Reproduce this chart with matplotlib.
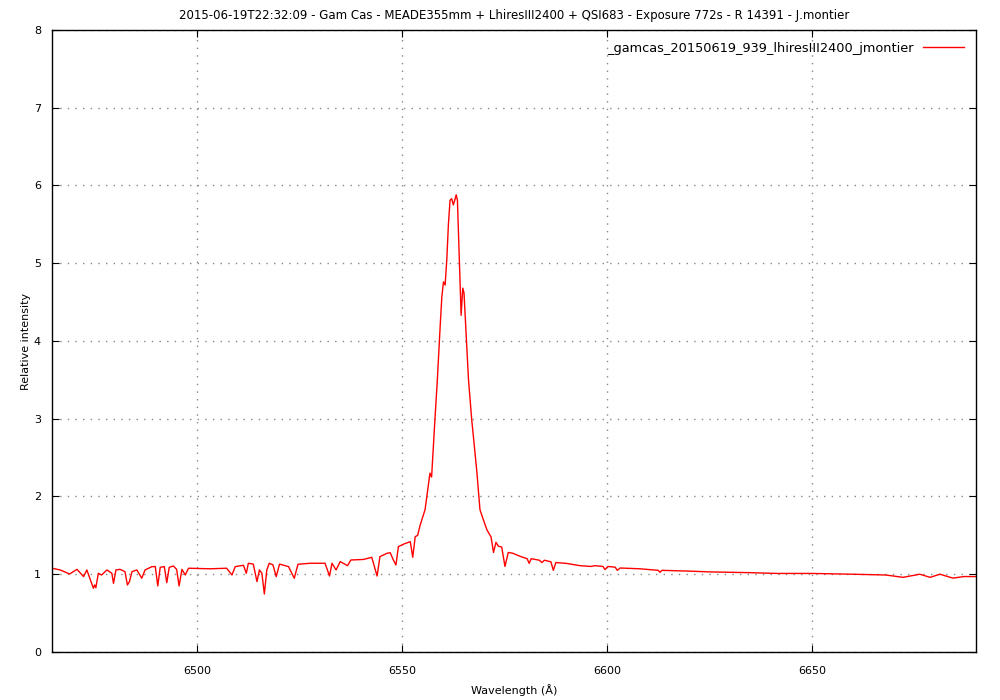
import matplotlib
matplotlib.use("Agg")
import matplotlib.pyplot as plt

# wavelength (A) and relative intensity
wave = [6464.6, 6466.6, 6468.9, 6470.7, 6472.3, 6473.1, 6474.7, 6475.0, 6475.3, 6475.9,
        6476.7, 6478.0, 6479.2, 6479.6, 6480.2, 6481.2, 6482.4, 6483.0, 6483.5, 6484.1,
        6485.3, 6486.5, 6487.3, 6489.0, 6489.8, 6490.4, 6491.0, 6492.0, 6492.6, 6493.2,
        6494.2, 6495.0, 6495.6, 6496.3, 6497.1, 6497.9, 6503.2, 6507.2, 6508.5, 6509.3,
        6511.3, 6512.0, 6512.5, 6513.7, 6514.6, 6515.2, 6515.8, 6516.4, 6517.0, 6517.6,
        6518.5, 6519.3, 6520.1, 6522.3, 6523.7, 6524.6, 6527.6, 6531.2, 6532.3, 6532.9,
        6533.9, 6534.9, 6536.7, 6537.5, 6540.6, 6542.6, 6543.9, 6544.6, 6546.3, 6547.1,
        6547.9, 6548.5, 6549.1, 6550.5, 6552.0, 6552.6, 6553.2, 6553.8, 6554.4, 6555.6,
        6556.8, 6557.2, 6557.8, 6558.0, 6558.6, 6559.3, 6559.7, 6560.1, 6560.5, 6560.9,
        6561.3, 6561.7, 6562.1, 6562.5, 6562.9, 6563.2, 6563.5, 6564.0, 6564.4, 6564.8,
        6565.1, 6565.6, 6566.2, 6567.0, 6568.2, 6569.0, 6569.5, 6570.7, 6571.7, 6572.3,
        6572.9, 6573.5, 6574.3, 6575.1, 6575.9, 6577.0, 6578.8, 6580.5, 6581.0, 6581.5,
        6583.5, 6584.1, 6584.7, 6586.3, 6586.9, 6587.5, 6590.0, 6593.4, 6596.0, 6597.0,
        6599.0, 6599.5, 6600.2, 6602.0, 6602.5, 6603.2, 6608.0, 6612.5, 6612.9, 6613.4,
        6620.0, 6625.0, 6635.0, 6641.5, 6650.0, 6660.0, 6668.0, 6672.2, 6676.3, 6678.8,
        6681.2, 6684.4, 6687.0, 6690.0]
flux = [1.077, 1.055, 1.003, 1.063, 0.969, 1.055, 0.819, 0.862, 0.827, 1.012,
        0.990, 1.055, 1.012, 0.883, 1.055, 1.063, 1.033, 0.862, 0.905, 1.033,
        1.055, 0.948, 1.055, 1.098, 1.098, 0.849, 1.089, 1.098, 0.891, 1.089,
        1.106, 1.063, 0.849, 1.063, 0.990, 1.077, 1.070, 1.077, 0.990, 1.098,
        1.115, 1.012, 1.141, 1.130, 0.905, 1.055, 1.012, 0.746, 1.055, 1.141,
        1.120, 0.969, 1.130, 1.098, 0.948, 1.128, 1.141, 1.141, 0.977, 1.141,
        1.055, 1.162, 1.110, 1.183, 1.190, 1.218, 0.977, 1.226, 1.269, 1.277,
        1.180, 1.119, 1.355, 1.390, 1.419, 1.218, 1.483, 1.500, 1.630, 1.830,
        2.300, 2.250, 2.810, 2.980, 3.500, 4.200, 4.570, 4.760, 4.720, 5.040,
        5.500, 5.810, 5.830, 5.750, 5.820, 5.880, 5.810, 5.000, 4.330, 4.680,
        4.620, 4.100, 3.500, 2.980, 2.340, 1.830, 1.750, 1.570, 1.480, 1.280,
        1.410, 1.360, 1.350, 1.100, 1.280, 1.270, 1.230, 1.200, 1.140, 1.200,
        1.180, 1.150, 1.180, 1.160, 1.050, 1.150, 1.140, 1.110, 1.100, 1.110,
        1.100, 1.060, 1.100, 1.090, 1.050, 1.080, 1.070, 1.050, 1.025, 1.050,
        1.040, 1.030, 1.020, 1.010, 1.010, 1.000, 0.990, 0.960, 1.000, 0.960,
        1.000, 0.950, 0.970, 0.970]

xticks = [6500, 6550, 6600, 6650]
yticks = [0, 1, 2, 3, 4, 5, 6, 7, 8]
series_name = "_gamcas_20150619_939_lhiresIII2400_jmontier"
title = ("2015-06-19T22:32:09 - Gam Cas - MEADE355mm + LhiresIII2400 + QSI683 "
         "- Exposure 772s - R 14391 - J.montier")

plt.rcParams['font.family'] = ['DejaVu Sans']
plt.rcParams['font.size'] = 8

fig = plt.figure(figsize=(10, 7), dpi=100)
ax = fig.add_axes([0.052, 0.0686, 0.924, 0.8886])

line, = ax.plot(wave, flux, color='red', lw=1.0)

ax.set_xlim(6464.6, 6690)
ax.set_ylim(0, 8)
ax.set_xticks(xticks)
ax.set_yticks(yticks)
ax.tick_params(direction='in', top=True, right=True, length=5, width=0.8, labelsize=8)
ax.tick_params(axis='x', pad=10)
ax.tick_params(axis='y', pad=8)
ax.grid(True, color='#888888', linestyle=(0, (1, 4.5)), lw=1.0)
for s in ax.spines.values():
    s.set_linewidth(1.0)

ax.set_title(title, fontsize=8.5, pad=8)
ax.set_xlabel("Wavelength (\u00c5)", fontsize=8, labelpad=6)
ax.set_ylabel("Relative intensity", fontsize=8, labelpad=2)

# label starts with "_", so pass handles and labels explicitly
ax.legend([line], [series_name], loc='upper right', frameon=False, markerfirst=False,
          handlelength=3.2, handletextpad=0.7, fontsize=9.3,
          borderaxespad=0.4, borderpad=0.5)

fig.savefig("out.png", dpi=100)
